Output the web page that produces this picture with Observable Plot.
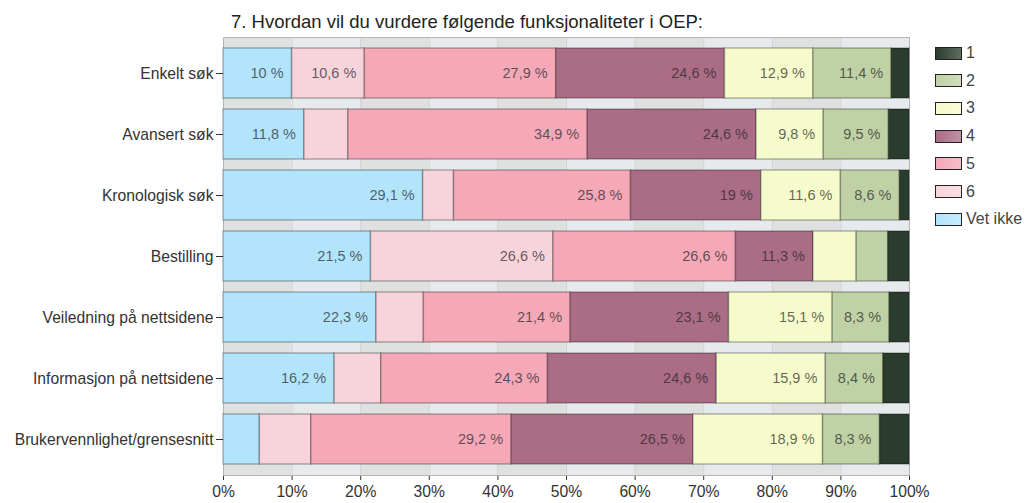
<!DOCTYPE html>
<html>
<head>
<meta charset="utf-8">
<script src="https://cdn.jsdelivr.net/npm/d3@7"></script>
<script src="https://cdn.jsdelivr.net/npm/@observablehq/plot@0.6"></script>
<style>
  body { margin: 0; background: #fff; font-family: "Liberation Sans", Arial, sans-serif; }
  #wrap { position: relative; width: 1027px; height: 503px; }
  #title { position: absolute; left: 231px; top: 11px; font-size: 18.5px; color: #222; white-space: nowrap; }
  #legend { position: absolute; left: 935px; top: 46px; }
  .item { position: absolute; left: 0; height: 14px; display: flex; align-items: center; white-space: nowrap; font-size: 16px; color: #444; }
  .sw { width: 25px; height: 11px; border: 1.5px solid #222; margin-right: 4px; }
  svg { position: absolute; left: 0; top: 0; }
</style>
</head>
<body>
<div id="wrap">
  <div id="title">7. Hvordan vil du vurdere følgende funksjonaliteter i OEP:</div>
  <div id="legend"></div>
</div>
<script>
const categories = ["Enkelt søk", "Avansert søk", "Kronologisk søk", "Bestilling", "Veiledning på nettsidene", "Informasjon på nettsidene", "Brukervennlighet/grensesnitt"];
const levels = ["Vet ikke", "6", "5", "4", "3", "2", "1"];
const legendOrder = ["1", "2", "3", "4", "5", "6", "Vet ikke"];
const colors = ["#b2e4fb", "#f7d3db", "#f4a8b8", "#ab6c86", "#f5fbcb", "#bfd1a5", "#2a3c2d"];
// values per category, in order of levels (Vet ikke, 6, 5, 4, 3, 2, 1)
const vetIkke = [10, 11.8, 29.1, 21.5, 22.3, 16.2, 5.3];
const six     = [10.6, 6.4, 4.5, 26.6, 6.9, 6.8, 7.5];
const five    = [27.9, 34.9, 25.8, 26.6, 21.4, 24.3, 29.2];
const four    = [24.6, 24.6, 19, 11.3, 23.1, 24.6, 26.5];
const three   = [12.9, 9.8, 11.6, 6.3, 15.1, 15.9, 18.9];
const two     = [11.4, 9.5, 8.6, 4.6, 8.3, 8.4, 8.3];
const one     = [2.6, 3.0, 1.4, 3.1, 2.9, 3.8, 4.3];
const xTicks = [0, 10, 20, 30, 40, 50, 60, 70, 80, 90, 100];

const series = [vetIkke, six, five, four, three, two, one];
const rows = [];
categories.forEach((cat, i) => {
  levels.forEach((level, j) => rows.push({cat, level, value: series[j][i]}));
});
const fmt = v => String(v).replace(".", ",") + " %";

const darkBands = xTicks.filter((d, i) => i < 10 && i % 2 === 0);
const lightBands = xTicks.filter((d, i) => i < 10 && i % 2 === 1);

const chart = Plot.plot({
  width: 1027,
  height: 503,
  marginLeft: 223,
  marginRight: 118,
  marginTop: 37,
  marginBottom: 28,
  style: {fontFamily: "'Liberation Sans', Arial, sans-serif", fontSize: "15.7px", color: "#333", background: "transparent"},
  x: {domain: [0, 100], ticks: xTicks, tickFormat: d => d + "%", tickSize: 5, tickPadding: 5, line: true, label: null},
  y: {domain: categories, padding: 0.18, tickSize: 7, tickPadding: 3, line: true, label: null},
  color: {domain: levels, range: colors},
  marks: [
    Plot.rect(darkBands, {x1: d => d, x2: d => d + 10, fill: "#dfe0e0"}),
    Plot.rect(lightBands, {x1: d => d, x2: d => d + 10, fill: "#e7eaed"}),
    Plot.ruleX(xTicks.slice(1, 10), {stroke: "#d0d2d4", strokeWidth: 1}),
    Plot.frame({stroke: "#b5b5b5"}),
    Plot.barX(rows, Plot.stackX({x: "value", y: "cat", fill: "level", stroke: "#000", strokeOpacity: 0.28, strokeWidth: 1.5})),
    Plot.text(rows, Plot.stackX2({
      x: "value", y: "cat", z: "level",
      text: d => d.value >= 8 ? fmt(d.value) : null,
      textAnchor: "end", dx: -8.5, fontSize: 14.5, fill: "#222", fillOpacity: 0.7
    }))
  ]
});
document.getElementById("wrap").appendChild(chart);

const legend = document.getElementById("legend");
legendOrder.forEach((lv, i) => {
  const c = colors[levels.indexOf(lv)];
  const lighter = d3.interpolateRgb(c, "#fff")(0.25);
  const it = document.createElement("div");
  it.className = "item";
  it.style.top = (i * 27.7) + "px";
  const sw = document.createElement("div");
  sw.className = "sw";
  sw.style.background = `linear-gradient(to right, ${c}, ${lighter})`;
  it.appendChild(sw);
  const t = document.createElement("span");
  t.textContent = lv;
  it.appendChild(t);
  legend.appendChild(it);
});
</script>
</body>
</html>
